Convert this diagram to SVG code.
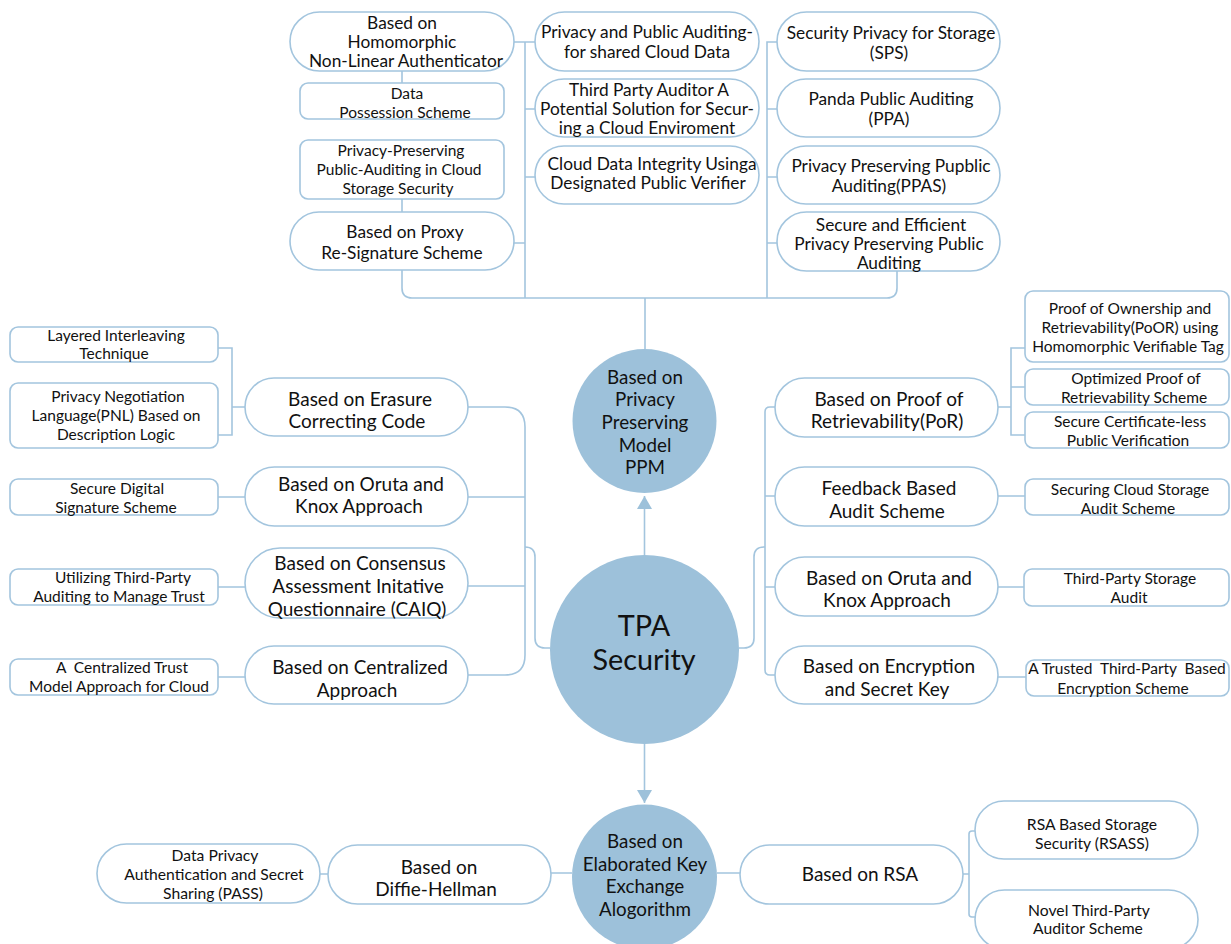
<svg xmlns="http://www.w3.org/2000/svg" width="1231" height="944" viewBox="0 0 1231 944">
<style>
.bg{fill:#ffffff}
.pill{fill:#ffffff;stroke:#a3c5de;stroke-width:1.6}
.box{fill:#ffffff;stroke:#a3c5de;stroke-width:1.6}
.hub{fill:#9dc1da;stroke:none}
.ln{fill:none;stroke:#a3c5de;stroke-width:1.6}
text{font-family:Lato,"Open Sans","Liberation Sans",sans-serif;fill:#111111;text-anchor:middle;dominant-baseline:central;white-space:pre}
.t17{font-size:17.3px}
.t18{font-size:19px}
.t14{font-size:15.5px}
.t15{font-size:15.7px}
.tc{font-size:18.8px}
.tbig{font-size:28.8px}
</style>
<defs>
<marker id="arr" viewBox="0 0 13 15" refX="13" refY="7.5" markerWidth="13" markerHeight="15" markerUnits="userSpaceOnUse" orient="auto">
<path d="M0,0 L13,7.5 L0,15 z" fill="#9dc1da"/>
</marker>
</defs>
<rect class="bg" x="0" y="0" width="1231" height="944"/>

<g id="connectors">
<path class="ln" d="M402,71 V83"/>
<path class="ln" d="M402,199 V212"/>
<path class="ln" d="M514,42 H535 M525,42 V298 M525,109 H535 M525,177 H535 M514,243 H525"/>
<path class="ln" d="M777,42 H767 V298 M767,109 H777 M767,177 H777 M767,243 H777"/>
<path class="ln" d="M402,270 V288 Q402,298 412,298 H887 Q897,298 897,288 V271"/>
<path class="ln" d="M645,298 V349"/>
<path class="ln" d="M644.5,555 V496" marker-end="url(#arr)"/>
<path class="ln" d="M644.5,744 V803" marker-end="url(#arr)"/>
<path class="ln" d="M468,407 H505 Q525,407 525,427 V655 Q525,675 505,675 H468 M468,497 H525 M468,586 H525"/>
<path class="ln" d="M550,648 H545 Q535,648 535,638 V557 Q535,547 525,547"/>
<path class="ln" d="M218,348 H232 V435 H218 M232,407 H245 M218,497 H245 M218,587 H245 M218,677 H245"/>
<path class="ln" d="M775,407 H770 Q765,407 765,412 V670 Q765,675 770,675 H775 M765,496 H775 M765,587 H775"/>
<path class="ln" d="M739,648 H744 Q754,648 754,638 V557 Q754,547 764,547 H765"/>
<path class="ln" d="M998,407 H1011 M1025,348 H1011 V435 H1025 M1011,387 H1025 M998,496 H1025 M998,587 H1024 M998,677 H1026"/>
<path class="ln" d="M320,874 H328 M551,873 H572 M717,873 H740 M963,874 H969 M975,831 H972 Q969,831 969,834 V914 Q969,917 972,917 H975"/>
</g>

<g id="n_homo"><rect class="pill" x="290" y="12" width="224" height="59" rx="29.5"/>
<text class="t17" x="402"><tspan x="402" y="22">Based on</tspan><tspan x="402" y="41">Homomorphic</tspan><tspan x="406" y="60">Non-Linear Authenticator</tspan></text></g>
<g id="n_dps"><rect class="box" x="300" y="83" width="204" height="36" rx="8"/>
<text class="t14"><tspan x="407" y="93">Data</tspan><tspan x="405" y="112">Possession Scheme</tspan></text></g>
<g id="n_ppac"><rect class="box" x="300" y="140" width="204" height="59" rx="8"/>
<text class="t14"><tspan x="401" y="150">Privacy-Preserving</tspan><tspan x="399" y="169">Public-Auditing in Cloud</tspan><tspan x="398" y="188">Storage Security</tspan></text></g>
<g id="n_proxy"><rect class="pill" x="290" y="212" width="224" height="58" rx="29"/>
<text class="t17"><tspan x="405" y="231">Based on Proxy</tspan><tspan x="402" y="252">Re-Signature Scheme</tspan></text></g>

<g id="n_ppa_shared"><rect class="pill" x="535" y="12" width="224" height="59" rx="29.5"/>
<text class="t17"><tspan x="647" y="31">Privacy and Public Auditing-</tspan><tspan x="647" y="51">for shared Cloud Data</tspan></text></g>
<g id="n_tpa_sol"><rect class="pill" x="535" y="79" width="224" height="58" rx="29"/>
<text class="t17"><tspan x="649" y="89">Third Party Auditor A</tspan><tspan x="647" y="108">Potential Solution for Secur-</tspan><tspan x="647" y="127">ing a Cloud Enviroment</tspan></text></g>
<g id="n_cdi"><rect class="pill" x="535" y="146" width="224" height="58" rx="29"/>
<text class="t17"><tspan x="652" y="163">Cloud Data Integrity Usinga</tspan><tspan x="648" y="182">Designated Public Verifier</tspan></text></g>

<g id="n_sps"><rect class="pill" x="777" y="12" width="223" height="59" rx="29.5"/>
<text class="t17"><tspan x="891" y="32">Security Privacy for Storage</tspan><tspan x="889" y="52">(SPS)</tspan></text></g>
<g id="n_panda"><rect class="pill" x="777" y="79" width="223" height="58" rx="29"/>
<text class="t17"><tspan x="891" y="98">Panda Public Auditing</tspan><tspan x="889" y="118">(PPA)</tspan></text></g>
<g id="n_ppas"><rect class="pill" x="777" y="146" width="223" height="58" rx="29"/>
<text class="t17"><tspan x="891" y="165">Privacy Preserving Pupblic</tspan><tspan x="889" y="185">Auditing(PPAS)</tspan></text></g>
<g id="n_seppa"><rect class="pill" x="777" y="212" width="223" height="59" rx="29.5"/>
<text class="t17"><tspan x="891" y="224">Secure and Efficient</tspan><tspan x="889" y="243">Privacy Preserving Public</tspan><tspan x="889" y="262">Auditing</tspan></text></g>

<g id="n_ppm"><circle class="hub" cx="644.5" cy="421" r="72"/>
<text class="tc"><tspan x="645" y="376">Based on</tspan><tspan x="645" y="398">Privacy</tspan><tspan x="645" y="421">Preserving</tspan><tspan x="645" y="444">Model</tspan><tspan x="645" y="466">PPM</tspan></text></g>
<g id="n_tpa"><circle class="hub" cx="644.5" cy="649.5" r="94.5"/>
<text class="tbig"><tspan x="644" y="625">TPA</tspan><tspan x="644" y="659">Security</tspan></text></g>
<g id="n_ekea"><circle class="hub" cx="644.5" cy="877" r="72.5"/>
<text class="tc"><tspan x="645" y="840">Based on</tspan><tspan x="645" y="863">Elaborated Key</tspan><tspan x="645" y="885">Exchange</tspan><tspan x="645" y="908">Alogorithm</tspan></text></g>

<g id="n_lit"><rect class="box" x="10" y="327" width="208" height="35" rx="8"/>
<text class="t14"><tspan x="116" y="335">Layered Interleaving</tspan><tspan x="114" y="353">Technique</tspan></text></g>
<g id="n_pnl"><rect class="box" x="10" y="383" width="208" height="65" rx="8"/>
<text class="t14"><tspan x="118" y="396">Privacy Negotiation</tspan><tspan x="116" y="415">Language(PNL) Based on</tspan><tspan x="116" y="434">Description Logic</tspan></text></g>
<g id="n_sds"><rect class="box" x="10" y="479" width="208" height="36" rx="8"/>
<text class="t14"><tspan x="117" y="488">Secure Digital</tspan><tspan x="116" y="507">Signature Scheme</tspan></text></g>
<g id="n_utpa"><rect class="box" x="10" y="569" width="208" height="36" rx="8"/>
<text class="t14"><tspan x="123" y="577">Utilizing Third-Party</tspan><tspan x="119" y="596">Auditing to Manage Trust</tspan></text></g>
<g id="n_ctm"><rect class="box" x="10" y="659" width="208" height="36" rx="8"/>
<text class="t14"><tspan x="122" y="667">A  Centralized Trust</tspan><tspan x="119" y="686">Model Approach for Cloud</tspan></text></g>

<g id="n_erasure"><rect class="pill" x="245" y="378" width="223" height="58" rx="29"/>
<text class="t18"><tspan x="360" y="398">Based on Erasure</tspan><tspan x="357" y="420">Correcting Code</tspan></text></g>
<g id="n_oruta_l"><rect class="pill" x="245" y="467" width="223" height="59" rx="29.5"/>
<text class="t18"><tspan x="361" y="483">Based on Oruta and</tspan><tspan x="359" y="505">Knox Approach</tspan></text></g>
<g id="n_caiq"><rect class="pill" x="245" y="548" width="223" height="70" rx="35"/>
<text class="t18"><tspan x="360" y="562">Based on Consensus</tspan><tspan x="358" y="585">Assessment Initative</tspan><tspan x="357" y="608">Questionnaire (CAIQ)</tspan></text></g>
<g id="n_central"><rect class="pill" x="245" y="646" width="223" height="58" rx="29"/>
<text class="t18"><tspan x="360" y="666">Based on Centralized</tspan><tspan x="357" y="689">Approach</tspan></text></g>

<g id="n_por"><rect class="pill" x="775" y="378" width="223" height="59" rx="29.5"/>
<text class="t18"><tspan x="889" y="398">Based on Proof of</tspan><tspan x="887" y="420">Retrievability(PoR)</tspan></text></g>
<g id="n_feedback"><rect class="pill" x="775" y="467" width="223" height="59" rx="29.5"/>
<text class="t18"><tspan x="889" y="487">Feedback Based</tspan><tspan x="887" y="510">Audit Scheme</tspan></text></g>
<g id="n_oruta_r"><rect class="pill" x="775" y="557" width="223" height="59" rx="29.5"/>
<text class="t18"><tspan x="889" y="577">Based on Oruta and</tspan><tspan x="887" y="599">Knox Approach</tspan></text></g>
<g id="n_enc"><rect class="pill" x="775" y="646" width="223" height="58" rx="29"/>
<text class="t18"><tspan x="889" y="665">Based on Encryption</tspan><tspan x="887" y="688">and Secret Key</tspan></text></g>

<g id="n_poor"><rect class="box" x="1025" y="291" width="204" height="71" rx="8"/>
<text class="t14"><tspan x="1130" y="308">Proof of Ownership and</tspan><tspan x="1130" y="327">Retrievability(PoOR) using</tspan><tspan x="1128" y="346">Homomorphic Verifiable Tag</tspan></text></g>
<g id="n_opor"><rect class="box" x="1025" y="369" width="204" height="36" rx="8"/>
<text class="t14"><tspan x="1136" y="378">Optimized Proof of</tspan><tspan x="1134" y="397">Retrievability Scheme</tspan></text></g>
<g id="n_scpv"><rect class="box" x="1025" y="412" width="204" height="36" rx="8"/>
<text class="t14"><tspan x="1130" y="421">Secure Certificate-less</tspan><tspan x="1128" y="440">Public Verification</tspan></text></g>
<g id="n_scsa"><rect class="box" x="1025" y="479" width="204" height="36" rx="8"/>
<text class="t14"><tspan x="1130" y="489">Securing Cloud Storage</tspan><tspan x="1128" y="508">Audit Scheme</tspan></text></g>
<g id="n_tpsa"><rect class="box" x="1024" y="569" width="205" height="37" rx="8"/>
<text class="t14"><tspan x="1130" y="578">Third-Party Storage</tspan><tspan x="1129" y="597">Audit</tspan></text></g>
<g id="n_ttpbe"><rect class="box" x="1026" y="660" width="203" height="36" rx="8"/>
<text class="t14"><tspan x="1127" y="668">A Trusted  Third-Party  Based</tspan><tspan x="1123" y="688">Encryption Scheme</tspan></text></g>

<g id="n_pass"><rect class="pill" x="97" y="844" width="223" height="59" rx="29.5"/>
<text class="t15"><tspan x="215" y="855">Data Privacy</tspan><tspan x="214" y="874">Authentication and Secret</tspan><tspan x="213" y="893">Sharing (PASS)</tspan></text></g>
<g id="n_dh"><rect class="pill" x="328" y="845" width="223" height="59" rx="29.5"/>
<text class="t18"><tspan x="439" y="866">Based on</tspan><tspan x="436" y="888">Diffie-Hellman</tspan></text></g>
<g id="n_rsa"><rect class="pill" x="740" y="845" width="223" height="59" rx="29.5"/>
<text class="t18"><tspan x="860" y="873">Based on RSA</tspan></text></g>
<g id="n_rsass"><rect class="pill" x="975" y="801" width="223" height="58" rx="29"/>
<text class="t15"><tspan x="1092" y="824">RSA Based Storage</tspan><tspan x="1092" y="843">Security (RSASS)</tspan></text></g>
<g id="n_novel"><rect class="pill" x="975" y="890" width="223" height="59" rx="29.5"/>
<text class="t15"><tspan x="1089" y="910">Novel Third-Party</tspan><tspan x="1088" y="928">Auditor Scheme</tspan></text></g>
</svg>
